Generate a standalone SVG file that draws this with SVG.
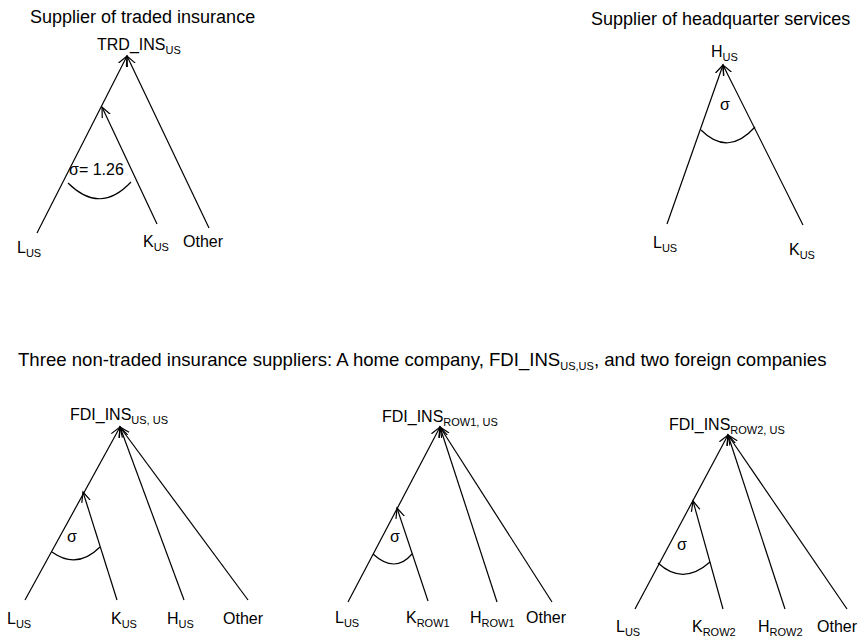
<svg xmlns="http://www.w3.org/2000/svg" width="859" height="637" viewBox="0 0 859 637">
<defs>
<style>
text{font-family:"Liberation Sans",Arial,sans-serif;fill:#000}
.t{font-size:18px}
.m{font-size:18.6px}
.n{font-size:16px}
.s{font-size:11px}
.c line,.c path{stroke:#000;stroke-width:1.2;fill:none}
.a{marker-end:url(#ah)}
</style>
<marker id="ah" markerUnits="userSpaceOnUse" markerWidth="12" markerHeight="12" refX="10" refY="5" orient="auto" viewBox="0 0 12 10">
<path d="M0,0.6 L10,5 L0,9.4" fill="none" stroke="#000" stroke-width="1.2"/>
</marker>
</defs>
<rect width="859" height="637" fill="#fff"/>

<g id="titles">
<text class="t" x="30" y="23">Supplier of traded insurance</text>
<text class="t" x="591" y="25">Supplier of headquarter services</text>
<text class="m" x="18" y="366">Three non-traded insurance suppliers: A home company, FDI_INS<tspan class="s" dy="4">US,US</tspan><tspan dy="-4">, and two foreign companies</tspan></text>
</g>

<g id="connectors" class="c">
<!-- tree 1 -->
<line class="a" x1="37" y1="233" x2="127" y2="56"/>
<line class="a" x1="209" y1="228" x2="127" y2="56"/>
<line class="a" x1="157" y1="224" x2="102" y2="107"/>
<path d="M68,183 Q100,215 131,182"/>
<!-- tree 2 -->
<line class="a" x1="667" y1="224" x2="723" y2="65"/>
<line class="a" x1="803" y1="225" x2="723" y2="65"/>
<path d="M701,130 Q728,157 755,127"/>
<!-- tree 3 -->
<line class="a" x1="25" y1="600" x2="120" y2="427"/>
<line class="a" x1="117" y1="600" x2="83" y2="492"/>
<line class="a" x1="184" y1="600" x2="120" y2="427"/>
<line class="a" x1="248" y1="600" x2="120" y2="427"/>
<path d="M52,552 Q77,570 100,547"/>
<!-- tree 4 -->
<line class="a" x1="348" y1="602" x2="440" y2="427"/>
<line class="a" x1="428" y1="601" x2="397" y2="508"/>
<line class="a" x1="497" y1="602" x2="440" y2="427"/>
<line class="a" x1="552" y1="602" x2="440" y2="427"/>
<path d="M373,554 Q395,574 412,554"/>
<!-- tree 5 -->
<line class="a" x1="635" y1="609" x2="728" y2="435"/>
<line class="a" x1="723" y1="609" x2="693" y2="501"/>
<line class="a" x1="785" y1="609" x2="728" y2="435"/>
<line class="a" x1="847" y1="609" x2="728" y2="435"/>
<path d="M658,563 Q683,586 710,562"/>
</g>

<g id="tree1">
<g id="trd_ins"><text class="n" x="97" y="50">TRD_INS<tspan class="s" dy="4">US</tspan></text></g>
<g id="sigma1"><text class="n" x="69" y="175">σ= 1.26</text></g>
<g id="t1_L"><text class="n" x="17" y="253">L<tspan class="s" dy="4">US</tspan></text></g>
<g id="t1_K"><text class="n" x="143" y="247">K<tspan class="s" dy="4">US</tspan></text></g>
<g id="t1_O"><text class="n" x="183" y="247">Other</text></g>
</g>

<g id="tree2">
<g id="h_us"><text class="n" x="711" y="57">H<tspan class="s" dy="4">US</tspan></text></g>
<g id="sigma2"><text class="n" x="720" y="110">σ</text></g>
<g id="t2_L"><text class="n" x="653" y="248">L<tspan class="s" dy="4">US</tspan></text></g>
<g id="t2_K"><text class="n" x="789" y="255">K<tspan class="s" dy="4">US</tspan></text></g>
</g>

<g id="tree3">
<g id="fdi_us"><text class="n" x="70" y="420">FDI_INS<tspan class="s" dy="4">US, US</tspan></text></g>
<g id="sigma3"><text class="n" x="67" y="542">σ</text></g>
<g id="t3_L"><text class="n" x="7" y="624">L<tspan class="s" dy="4">US</tspan></text></g>
<g id="t3_K"><text class="n" x="111" y="624">K<tspan class="s" dy="4">US</tspan></text></g>
<g id="t3_H"><text class="n" x="167" y="624">H<tspan class="s" dy="4">US</tspan></text></g>
<g id="t3_O"><text class="n" x="223" y="624">Other</text></g>
</g>

<g id="tree4">
<g id="fdi_row1"><text class="n" x="382" y="422">FDI_INS<tspan class="s" dy="4">ROW1, US</tspan></text></g>
<g id="sigma4"><text class="n" x="390" y="542">σ</text></g>
<g id="t4_L"><text class="n" x="335" y="623">L<tspan class="s" dy="4">US</tspan></text></g>
<g id="t4_K"><text class="n" x="406" y="623">K<tspan class="s" dy="4">ROW1</tspan></text></g>
<g id="t4_H"><text class="n" x="470" y="623">H<tspan class="s" dy="4">ROW1</tspan></text></g>
<g id="t4_O"><text class="n" x="526" y="623">Other</text></g>
</g>

<g id="tree5">
<g id="fdi_row2"><text class="n" x="669" y="430">FDI_INS<tspan class="s" dy="4">ROW2, US</tspan></text></g>
<g id="sigma5"><text class="n" x="677" y="550">σ</text></g>
<g id="t5_L"><text class="n" x="616" y="632">L<tspan class="s" dy="4">US</tspan></text></g>
<g id="t5_K"><text class="n" x="692" y="632">K<tspan class="s" dy="4">ROW2</tspan></text></g>
<g id="t5_H"><text class="n" x="758" y="632">H<tspan class="s" dy="4">ROW2</tspan></text></g>
<g id="t5_O"><text class="n" x="817" y="632">Other</text></g>
</g>
</svg>
